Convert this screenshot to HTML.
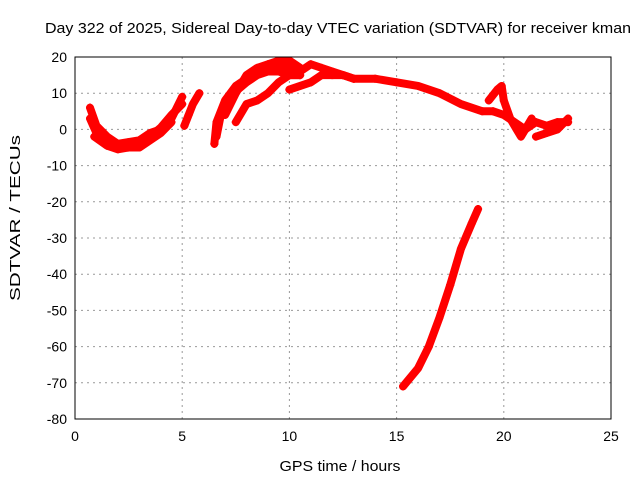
<!DOCTYPE html>
<html><head><meta charset="utf-8"><style>
body{margin:0;background:#fff;}
svg{display:block;font-family:"Liberation Sans",sans-serif;}
</style></head><body>
<svg id="chart" width="640" height="480">
<text x="338" y="33" text-anchor="middle" font-size="15" textLength="586" lengthAdjust="spacingAndGlyphs">Day 322 of 2025, Sidereal Day-to-day VTEC variation (SDTVAR) for receiver kman</text>
<text x="340" y="471" text-anchor="middle" font-size="15" textLength="121" lengthAdjust="spacingAndGlyphs">GPS time / hours</text>
<text transform="translate(20,218) rotate(-90)" text-anchor="middle" font-size="15" textLength="166" lengthAdjust="spacingAndGlyphs">SDTVAR / TECUs</text>
<g id="grid"></g><g id="series"></g>
<rect x="75" y="57" width="536" height="362" fill="none" stroke="#000"/>
</svg>
<script>
const xTicks=[0,5,10,15,20,25];
const yTicks=[20,10,0,-10,-20,-30,-40,-50,-60,-70,-80];
const traceA=[[0.7,6],[1.0,1],[1.5,-2],[2,-4],[2.5,-3.5],[3,-3],[3.5,-1],[4,0],[4.5,3],[5,9]];
const traceB=[[0.7,3],[1.0,-1],[1.5,-3.5],[2,-5],[2.5,-4.5],[3,-4.5],[3.5,-2],[4,0.5],[4.5,4],[5,7]];
const traceB2=[[0.9,-2],[1.5,-4.5],[2,-5.5],[2.5,-5],[3,-5],[3.5,-3],[4,-1],[4.5,2]];
const traceC=[[5.1,1],[5.3,4],[5.5,7],[5.8,10]];
const traceD=[[6.5,-4],[6.6,2],[7,8],[7.5,12],[8,14],[8.5,16],[9,17],[9.5,18],[10,17],[10.5,16],[11,18],[11.5,17],[12,16],[12.5,15],[13,14],[14,14],[15,13],[16,12],[17,10],[18,7],[19,5],[19.5,5],[20,4],[20.5,2],[21,0],[21.5,2],[22,1],[22.5,2],[23,2]];
const traceD2=[[6.6,-2],[6.8,4],[7.2,8],[7.6,11],[8,13],[8.5,15],[9,16],[9.5,16],[10,15],[10.5,15]];
const traceE=[[7.5,2],[8,7],[8.5,8],[9,10],[9.5,13],[10,15],[10.5,15]];
const traceF=[[7,4],[7.5,10],[8,15],[8.5,17],[9,18],[9.5,19],[10,19],[10.5,17]];
const traceG=[[10,11],[10.5,12],[11,13],[11.5,15],[12,15],[12.5,15],[13,14]];
const traceH=[[19.3,8],[19.7,11],[19.9,12],[20,8],[20.3,3],[20.6,0],[20.8,-2],[21,0],[21.3,3]];
const traceI=[[21.5,-2],[22,-1],[22.5,0],[23,3]];
const traceNeg=[[15.3,-71],[16,-66],[16.5,-60],[17,-52],[17.5,-43],[18,-33],[18.5,-26],[18.8,-22]];
const traces=[traceA,traceB,traceB2,traceC,traceD,traceD2,traceE,traceF,traceG,traceH,traceI,traceNeg];
const X0=75,X1=611,Y0=57,Y1=419;
const xs=v=>X0+(v-0)/25*(X1-X0);
const ys=v=>Y0+(20-v)/100*(Y1-Y0);
const NS="http://www.w3.org/2000/svg";
const grid=document.getElementById('grid'),ser=document.getElementById('series');
function mk(tag,attrs,parent){const e=document.createElementNS(NS,tag);for(const k in attrs)e.setAttribute(k,attrs[k]);parent.appendChild(e);return e;}
xTicks.forEach(t=>{const x=xs(t);
 if(t>0&&t<25){const g=mk('line',{x1:x,x2:x,y1:Y0,y2:Y1,stroke:'#999','stroke-dasharray':'2,4'},grid);
 
 }
 const l=mk('text',{x:x,y:Y1+22,'text-anchor':'middle','font-size':14},grid);l.textContent=t;
 
 
});
yTicks.forEach(t=>{const y=ys(t);
 if(t<20&&t>-80){const g=mk('line',{x1:X0,x2:X1,y1:y,y2:y,stroke:'#999','stroke-dasharray':'2,4'},grid);
 
 }
 const l=mk('text',{x:X0-8,y:y+5,'text-anchor':'end','font-size':14},grid);l.textContent=t;
 
 
});
traces.forEach(tr=>{
 const p=mk('polyline',{points:tr.map(d=>xs(d[0])+','+ys(d[1])).join(' '),fill:'none',stroke:'#f00','stroke-width':8,'stroke-linejoin':'round','stroke-linecap':'round'},ser);
 
 
 tr.forEach(d=>{const x=xs(d[0]),y=ys(d[1]);
  const m=mk('path',{d:`M${x-4},${y}H${x+4}M${x},${y-4}V${y+4}`,stroke:'#f00','stroke-width':2},ser);
  
  
 });
});
</script>
</body></html>
